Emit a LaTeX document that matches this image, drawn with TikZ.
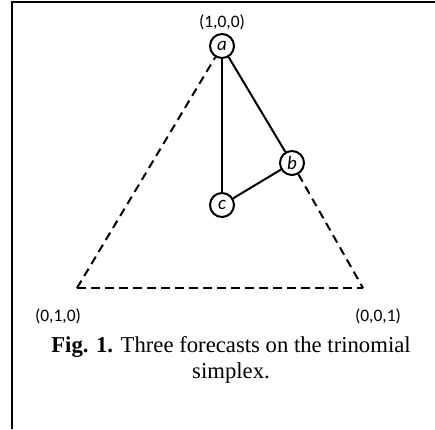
\documentclass[tikz,border=0pt]{standalone}
\usepackage{fontspec}
\setmainfont{Liberation Serif}
\newfontfamily\lab{Carlito}
\begin{document}
\begin{tikzpicture}[x=1pt,y=-1pt,
  ptnode/.style={circle,draw,line width=2pt,minimum size=24pt,inner sep=0pt,font=\lab\fontsize{19}{19}\selectfont\itshape},
  coordlbl/.style={font=\lab\fontsize{17.5}{17.5}\selectfont},
  edgeline/.style={line width=2pt},
  simpline/.style={line width=2pt,dash pattern=on 8.5pt off 5.5pt},
  captext/.style={font=\fontsize{22.7}{26}\selectfont,align=center}]
\useasboundingbox (0,0) rectangle (435,429);
\draw[line width=2.4pt] (12,429) -- (12,2) -- (435,2);
\node[ptnode] (a) at (222,46) {a};
\node[ptnode] (b) at (292,163) {b};
\node[ptnode] (c) at (222,205) {c};
\coordinate (L) at (77,288);
\coordinate (R) at (363,288);
\draw[simpline] (L) -- (R);
\draw[simpline] (L) -- (a);
\draw[simpline] (b) -- (R);
\draw[edgeline] (a) -- (c);
\draw[edgeline] (a) -- (b);
\draw[edgeline] (b) -- (c);
\node[coordlbl] (t1) at (222,22) {(1,0,0)};
\node[coordlbl] (t2) at (58,316) {(0,1,0)};
\node[coordlbl] (t3) at (378,316) {(0,0,1)};
\node[captext] (captn) at (231,360) {\textbf{Fig. 1.} Three forecasts on the trinomial\\simplex.};
\end{tikzpicture}
\end{document}
